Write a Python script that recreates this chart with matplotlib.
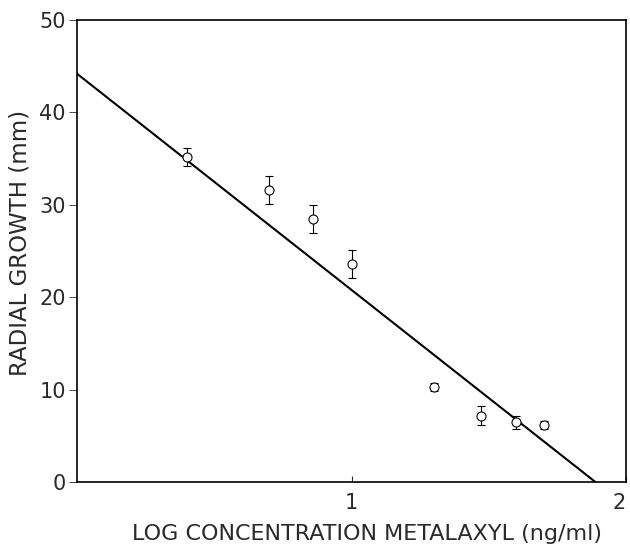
import numpy as np
import matplotlib
matplotlib.use("Agg")
import matplotlib.pyplot as plt

# log concentration of metalaxyl (ng/ml) and radial growth (mm)
log_conc = [0.40, 0.70, 0.86, 1.00, 1.30, 1.47, 1.60, 1.70]
growth = [35.2, 31.6, 28.5, 23.6, 10.3, 7.2, 6.5, 6.2]
growth_err = [1.0, 1.5, 1.5, 1.5, 0.4, 1.0, 0.7, 0.4]

# fitted regression line
fit_intercept = 44.2
fit_slope = -23.4

x_ticks = [1, 2]
x_tick_labels = ["1", "2"]
y_ticks = [0, 10, 20, 30, 40, 50]
y_tick_labels = ["0", "10", "20", "30", "40", "50"]

plt.rcParams['font.family'] = ['DejaVu Sans']

fig = plt.figure(figsize=(6.3, 5.48), dpi=100)
ax = fig.add_axes([0.122, 0.12, 0.872, 0.8435])

# regression line from x=0 to where it hits zero
x_end = -fit_intercept / fit_slope
xs = np.array([0.0, x_end])
ax.plot(xs, fit_intercept + fit_slope * xs, color='black', linewidth=1.5)

# data points with error bars
ax.errorbar(log_conc, growth, yerr=growth_err, fmt='o', color='black',
            markerfacecolor='white', markeredgecolor='black', markersize=6.5,
            markeredgewidth=0.8, elinewidth=0.8, capsize=3, capthick=0.8,
            zorder=3)

ax.set_xlim(0, 2)
ax.set_ylim(0, 50)
ax.set_xticks(x_ticks)
ax.set_xticklabels(x_tick_labels)
ax.set_yticks(y_ticks)
ax.set_yticklabels(y_tick_labels)

ax.tick_params(axis='x', direction='in', length=4, width=0.8, pad=8,
               labelsize=15, colors='#2a2a2a')
ax.tick_params(axis='y', direction='out', length=6, width=0.6, pad=2,
               labelsize=15, colors='#2a2a2a')
# keep the "2" inside the picture
ax.get_xticklabels()[-1].set_horizontalalignment('right')

for s in ax.spines.values():
    s.set_linewidth(1.2)
    s.set_color('black')

ax.set_xlabel("LOG CONCENTRATION METALAXYL (ng/ml)", fontsize=16,
              color='#2a2a2a', va='center')
ax.xaxis.set_label_coords(0.528, -0.112)
ax.set_ylabel("RADIAL GROWTH (mm)", fontsize=16.5, color='#2a2a2a',
              va='center')
ax.yaxis.set_label_coords(-0.104, 0.517)

fig.savefig("out.png", dpi=100)
